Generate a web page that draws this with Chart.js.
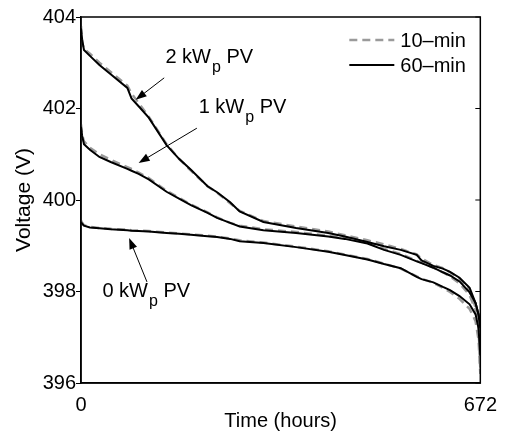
<!DOCTYPE html>
<html><head><meta charset="utf-8">
<script src="https://cdn.jsdelivr.net/npm/chart.js@4.4.1/dist/chart.umd.min.js"></script>
<style>html,body{margin:0;padding:0;background:#fff}</style>
</head><body>
<canvas id="c" width="507" height="437"></canvas>
<script>
// ---- data ----
const hours = [0,2,5,15,31,50,78,85,97,114,144,165,185,213,229,251,267,307,362,416,444,482,510,538,565,573,593,609,621,637,654,664,669,672];

const pv2_60 = [403.75,403.5,403.28,403.15,402.95,402.75,402.45,402.22,402.05,401.8,401.2,400.9,400.66,400.3,400.17,399.95,399.75,399.52,399.39,399.28,399.2,399.08,398.99,398.91,398.8,398.68,398.56,398.5,398.43,398.3,398.08,397.75,397.5,397.25];
const pv1_60 = [401.6,401.4,401.22,401.1,400.94,400.83,400.68,400.64,400.57,400.45,400.18,400.03,399.89,399.72,399.61,399.5,399.42,399.34,399.28,399.2,399.15,399.05,398.91,398.8,398.66,398.62,398.52,398.42,398.35,398.22,397.98,397.75,397.5,397.2];
const pv0_60 = [399.52,399.48,399.44,399.4,399.38,399.36,399.34,399.33,399.32,399.31,399.28,399.26,399.24,399.21,399.19,399.15,399.1,399.06,398.97,398.87,398.8,398.7,398.6,398.51,398.32,398.27,398.2,398.1,398.03,397.9,397.72,397.5,397.2,396.6];

const pv2_10 = [403.8,403.45,403.3,403.2,403.0,402.8,402.5,402.33,402.12,401.82,401.22,400.9,400.64,400.3,400.16,399.93,399.76,399.54,399.42,399.31,399.23,399.12,399.03,398.93,398.81,398.72,398.58,398.51,398.42,398.28,398.02,397.65,397.3,396.4];
const pv1_10 = [401.65,401.42,401.28,401.14,401.0,400.88,400.72,400.68,400.6,400.48,400.2,400.05,399.9,399.73,399.62,399.5,399.44,399.36,399.3,399.22,399.17,399.07,398.93,398.82,398.67,398.63,398.52,398.42,398.33,398.18,397.92,397.6,397.2,396.3];
const pv0_10 = [399.55,399.5,399.45,399.41,399.39,399.37,399.35,399.34,399.33,399.32,399.29,399.27,399.25,399.22,399.2,399.16,399.12,399.07,398.98,398.88,398.81,398.71,398.61,398.5,398.33,398.28,398.19,398.08,397.99,397.84,397.62,397.35,396.95,396.2];

const xTicks = [0, 672];
const yTicks = [396, 398, 400, 402, 404];
const seriesNames = ['10\u2013min', '60\u2013min'];

// annotation labels (data coordinates): text, sub, text position, arrow start, arrow tip
const notes = [
  {pre:'2 kW', sub:'p', post:' PV', tx:142, ty:402.99, ax:140, ay:402.67, bx:92, by:402.19},
  {pre:'1 kW', sub:'p', post:' PV', tx:198, ty:401.9, ax:195, ay:401.57, bx:97, by:400.81},
  {pre:'0 kW', sub:'p', post:' PV', tx:36,  ty:397.88, ax:111, ay:398.21, bx:81, by:399.17}
];

const FONT = '"Liberation Sans", Arial, sans-serif';
const pts = arr => hours.map((h,i)=>({x:h, y:arr[i]}));

function ds(arr, dashed){
  return dashed ? {
    data: pts(arr), borderColor:'#9a9a9a', borderWidth:2.5, borderDash:[8,5],
    pointRadius:0, tension:0, fill:false, order:1
  } : {
    data: pts(arr), borderColor:'#000', borderWidth:2,
    pointRadius:0, tension:0, fill:false, order:0
  };
}

const overlay = {
  id:'overlay',
  afterDatasetsDraw(chart){
    const {ctx, chartArea:a, scales:{x, y}} = chart;
    ctx.save();
    ctx.strokeStyle = '#000'; ctx.lineWidth = 1.5; ctx.setLineDash([]);
    ctx.strokeRect(a.left, a.top, a.right-a.left, a.bottom-a.top);
    // right-side inward ticks
    ctx.lineWidth = 1;
    y.ticks.forEach(t=>{
      const py = y.getPixelForValue(t.value);
      ctx.beginPath(); ctx.moveTo(a.right, py); ctx.lineTo(a.right-5, py); ctx.stroke();
    });
    // legend
    ctx.font = '20px ' + FONT; ctx.fillStyle = '#000'; ctx.textBaseline = 'middle'; ctx.textAlign='left';
    const lx0 = a.right - 131, lx1 = a.right - 86, tx = a.right - 80;
    ctx.strokeStyle = '#9a9a9a'; ctx.lineWidth = 2.5; ctx.setLineDash([8,5]);
    ctx.beginPath(); ctx.moveTo(lx0, a.top+23); ctx.lineTo(lx1, a.top+23); ctx.stroke();
    ctx.setLineDash([]); ctx.strokeStyle = '#000'; ctx.lineWidth = 2;
    ctx.beginPath(); ctx.moveTo(lx0, a.top+48); ctx.lineTo(lx1, a.top+48); ctx.stroke();
    ctx.fillText(seriesNames[0], tx, a.top+24);
    ctx.fillText(seriesNames[1], tx, a.top+49);
    // annotations
    ctx.textBaseline = 'alphabetic';
    notes.forEach(n=>{
      let px = x.getPixelForValue(n.tx), py = y.getPixelForValue(n.ty);
      ctx.font = '20px ' + FONT; ctx.fillText(n.pre, px, py);
      px += ctx.measureText(n.pre).width + 1;
      ctx.font = '16px ' + FONT; ctx.fillText(n.sub, px, py + 9);
      px += ctx.measureText(n.sub).width;
      ctx.font = '20px ' + FONT; ctx.fillText(n.post, px, py);
      const x0 = x.getPixelForValue(n.ax), y0 = y.getPixelForValue(n.ay);
      const x1 = x.getPixelForValue(n.bx), y1 = y.getPixelForValue(n.by);
      const ang = Math.atan2(y1-y0, x1-x0);
      ctx.strokeStyle = '#000'; ctx.lineWidth = 1;
      ctx.beginPath(); ctx.moveTo(x0,y0); ctx.lineTo(x1 - 8*Math.cos(ang), y1 - 8*Math.sin(ang)); ctx.stroke();
      ctx.beginPath();
      ctx.moveTo(x1, y1);
      ctx.lineTo(x1 - 11*Math.cos(ang) + 4*Math.sin(ang), y1 - 11*Math.sin(ang) - 4*Math.cos(ang));
      ctx.lineTo(x1 - 11*Math.cos(ang) - 4*Math.sin(ang), y1 - 11*Math.sin(ang) + 4*Math.cos(ang));
      ctx.closePath(); ctx.fill();
    });
    ctx.restore();
  }
};

Chart.defaults.font.family = FONT;
Chart.defaults.color = '#000';

new Chart(document.getElementById('c'), {
  type:'line',
  data:{ datasets:[
    ds(pv2_60,false), ds(pv1_60,false), ds(pv0_60,false),
    ds(pv2_10,true), ds(pv1_10,true), ds(pv0_10,true)
  ]},
  options:{
    responsive:false, animation:false, devicePixelRatio:1,
    layout:{padding:{top:17, right:19, left:0, bottom:0}},
    plugins:{legend:{display:false}, tooltip:{enabled:false}},
    scales:{
      x:{
        type:'linear', min:0, max:672,
        afterBuildTicks: s => { s.ticks = xTicks.map(v=>({value:v})); },
        afterFit: s => { s.height = 54; },
        grid:{display:true, drawOnChartArea:false, drawTicks:false, color:'#000'},
        border:{display:true, color:'#000', width:1.5},
        ticks:{font:{size:20}, color:'#000', padding:10, maxRotation:0, autoSkip:false},
        title:{display:true, text:'Time (hours)', font:{size:20}, color:'#000', padding:{top:0,bottom:4}}
      },
      y:{
        type:'linear', min:396, max:404,
        afterBuildTicks: s => { s.ticks = yTicks.map(v=>({value:v})); },
        afterFit: s => { s.width = 81; },
        grid:{display:true, drawOnChartArea:false, drawTicks:true, tickLength:5, color:'#000'},
        border:{display:true, color:'#000', width:1.5},
        ticks:{font:{size:20}, color:'#000', padding:0},
        title:{display:true, text:'Voltage (V)', font:{size:21}, color:'#000', padding:{top:12,bottom:0}}
      }
    }
  },
  plugins:[overlay]
});
</script>
</body></html>
